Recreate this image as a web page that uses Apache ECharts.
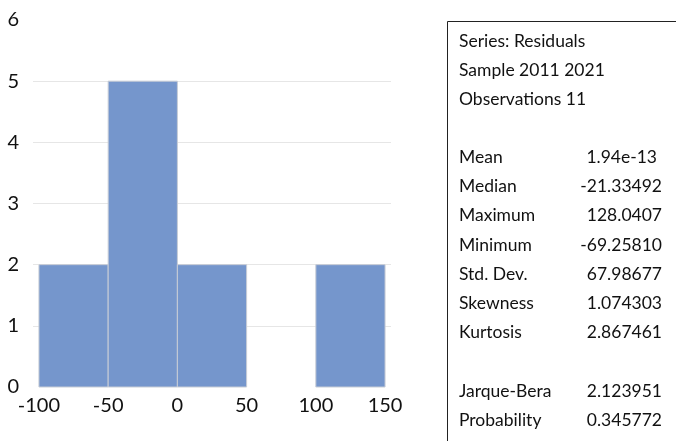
<!DOCTYPE html>
<html>
<head>
<meta charset="utf-8">
<script src="https://cdn.jsdelivr.net/npm/echarts@6/dist/echarts.min.js"></script>
<style>
  html, body { margin: 0; padding: 0; background: #fff; }
  #chart { width: 682px; height: 441px; }
</style>
</head>
<body>
<div id="chart"></div>
<script>
// histogram bins (lower edge, upper edge) and counts
const binStart = [-100, -50, 0, 50, 100];
const binEnd = [-50, 0, 50, 100, 150];
const counts = [2, 5, 2, 0, 2];
const xTicks = [-100, -50, 0, 50, 100, 150];

// stats box
const headerLines = ['Series: Residuals', 'Sample 2011 2021', 'Observations 11'];
const statNames = ['Mean', 'Median', 'Maximum', 'Minimum', 'Std. Dev.', 'Skewness', 'Kurtosis', '', 'Jarque-Bera', 'Probability'];
const statValues = ['1.94e-13', '-21.33492', '128.0407', '-69.25810', '67.98677', '1.074303', '2.867461', '', '2.123951', '0.345772'];

const font = 'Lato, "Open Sans", sans-serif';
const chart = echarts.init(document.getElementById('chart'));

const texts = [];
headerLines.forEach((t, i) => {
  texts.push({ type: 'text', left: 459, top: 32 + i * 29.3,
    style: { text: t, font: '17.5px ' + font, fill: '#111' } });
});
statNames.forEach((t, i) => {
  if (!t) return;
  const y = 148 + i * 29.3;
  texts.push({ type: 'text', left: 459, top: y,
    style: { text: t, font: '17.5px ' + font, fill: '#111' } });
  texts.push({ type: 'text', right: i === 0 ? 25 : 20, top: y,
    style: { text: statValues[i], font: '17.5px ' + font, fill: '#111', textAlign: 'right' } });
});

const option = {
  animation: false,
  grid: { left: 33, right: 291, top: 20, bottom: 54 },
  xAxis: {
    type: 'value', min: -104.3, max: 154.3,
    axisLine: { show: false },
    axisTick: { show: false },
    splitLine: { show: false },
    axisLabel: {
      customValues: xTicks, color: '#111', fontSize: 20, fontFamily: font, margin: 9
    }
  },
  yAxis: {
    type: 'value', min: 0, max: 6, interval: 1,
    axisLine: { show: false },
    axisTick: { show: false },
    splitLine: { showMinLine: false, showMaxLine: false, lineStyle: { color: '#e6e6e6', width: 1 } },
    axisLabel: { color: '#111', fontSize: 20, fontFamily: font, margin: 14 }
  },
  series: [{
    type: 'custom',
    data: binStart.map((s, i) => [s, binEnd[i], counts[i]]),
    renderItem: function (params, api) {
      const p0 = api.coord([api.value(0), 0]);
      const p1 = api.coord([api.value(1), api.value(2)]);
      if (api.value(2) === 0) return;
      return {
        type: 'rect',
        shape: { x: p0[0], y: p1[1], width: p1[0] - p0[0], height: p0[1] - p1[1] },
        style: { fill: '#7596cc', stroke: '#c8cdd6', lineWidth: 1 }
      };
    }
  }],
  graphic: [
    { type: 'polyline', shape: { points: [[447.5, 441], [447.5, 21.5], [676, 21.5]] },
      style: { stroke: '#222', lineWidth: 1, fill: null } }
  ].concat(texts)
};
chart.setOption(option);
</script>
</body>
</html>
